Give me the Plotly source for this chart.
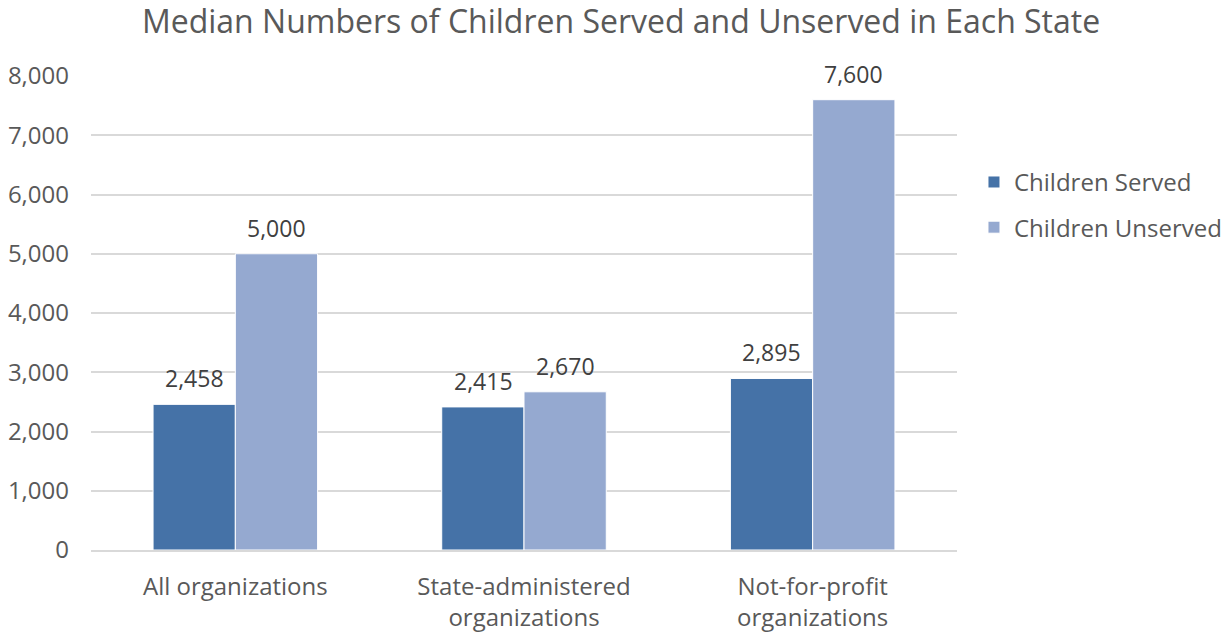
import plotly.graph_objects as go

categories = ["All organizations", "State-administered<br>organizations", "Not-for-profit<br>organizations"]
served = [2458, 2415, 2895]
unserved = [5000, 2670, 7600]
y_ticks = [0, 1000, 2000, 3000, 4000, 5000, 6000, 7000, 8000]

FONT = "Open Sans"
TEXT = "#595959"
LABEL = "#404040"
BAR_HALF = 41  # half of one bar's pixel width, used to place value labels over each bar

fig = go.Figure()
fig.add_trace(go.Bar(
    name="Children Served", x=categories, y=served, legendgroup="served",
    marker=dict(color="#4572A7", line=dict(color="white", width=1)),
))
fig.add_trace(go.Bar(
    name="Children Unserved", x=categories, y=unserved, legendgroup="unserved",
    marker=dict(color="#95A9D0", line=dict(color="white", width=1)),
))

# value labels above each bar
for values, shift in ((served, -BAR_HALF), (unserved, BAR_HALF)):
    for cat, v in zip(categories, values):
        fig.add_annotation(
            x=cat, y=v, xref="x", yref="y", text=f"{v:,}", showarrow=False,
            xshift=shift, yshift=8, yanchor="bottom",
            font=dict(family=FONT, size=23, color=LABEL),
        )

fig.update_layout(
    width=1231, height=635,
    margin=dict(l=91, r=274, t=76, b=85, autoexpand=False),
    paper_bgcolor="white", plot_bgcolor="white",
    barmode="group", bargap=0.43, bargroupgap=0,
    font=dict(family=FONT, color=TEXT, size=24),
    title=dict(text="Median Numbers of Children Served and Unserved in Each State",
               x=0.5045, xanchor="center", y=0.965, yanchor="middle",
               font=dict(family=FONT, size=32, color=TEXT)),
    legend=dict(x=1.0196, y=0.823, xanchor="left", yanchor="top",
                font=dict(family=FONT, size=24, color=TEXT),
                itemwidth=30, tracegroupgap=11),
    xaxis=dict(showgrid=False, showline=True, linecolor="#d9d9d9", linewidth=2,
               ticks="", ticklabelstandoff=14, automargin=False,
               tickfont=dict(size=24, color=TEXT)),
    yaxis=dict(range=[0, 8000], tickvals=y_ticks, tickformat=",d",
               showgrid=True, gridcolor="#d9d9d9", gridwidth=1.5,
               zeroline=False, ticks="", ticklabelstandoff=21, automargin=False,
               tickfont=dict(size=24, color=TEXT)),
)

fig.write_html("out.html")
